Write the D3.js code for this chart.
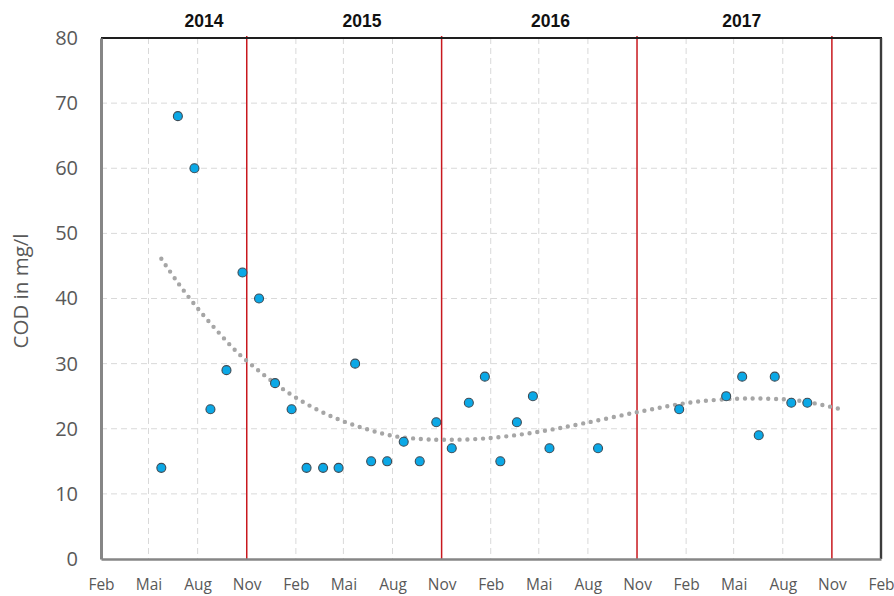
<!DOCTYPE html>
<html>
<head>
<meta charset="utf-8">
<script src="https://cdn.jsdelivr.net/npm/d3@7"></script>
<style>
  body { margin: 0; background: #fff; }
  svg { display: block; }
</style>
</head>
<body>
<script>
// sample dates and COD values (mg/l)
var sampleDates = ["2014-05-25", "2014-06-25", "2014-07-26", "2014-08-25", "2014-09-24", "2014-10-24",
  "2014-11-24", "2014-12-24", "2015-01-24", "2015-02-21", "2015-03-24", "2015-04-22", "2015-05-23",
  "2015-06-22", "2015-07-22", "2015-08-22", "2015-09-21", "2015-10-22", "2015-11-20", "2015-12-22",
  "2016-01-21", "2016-02-19", "2016-03-21", "2016-04-20", "2016-05-21", "2016-08-20", "2017-01-19",
  "2017-04-17", "2017-05-17", "2017-06-17", "2017-07-17", "2017-08-17", "2017-09-16"];
var codValues = [14, 68, 60, 23, 29, 44, 40, 27, 23, 14, 14, 14, 30, 15, 15, 18, 15, 21, 17, 24,
  28, 15, 21, 25, 17, 17, 23, 25, 28, 19, 28, 24, 24];

// trend line
var trendDates = ["2014-05-25", "2014-06-27", "2014-08-01", "2014-09-08", "2014-10-16", "2014-11-28",
  "2015-01-13", "2015-03-02", "2015-04-20", "2015-06-11", "2015-08-02", "2015-09-27", "2015-11-04",
  "2016-01-20", "2016-04-21", "2016-07-22", "2016-11-05", "2017-02-06", "2017-05-05", "2017-07-07",
  "2017-09-02", "2017-11-13"];
var trendValues = [46.1, 42.2, 38.5, 34.9, 31.6, 28.6, 25.8, 23.4, 21.5, 20.0, 18.9, 18.4, 18.3,
  18.5, 19.4, 20.8, 22.6, 24.0, 24.6, 24.6, 24.3, 23.1];

var monthNames = ["Jan", "Feb", "Mär", "Apr", "Mai", "Jun", "Jul", "Aug", "Sep", "Okt", "Nov", "Dez"];
var yTicks = [0, 10, 20, 30, 40, 50, 60, 70, 80];
var yearLabels = ["2014", "2015", "2016", "2017"];
var yearLabelDates = ["2014-08-13", "2015-06-05", "2016-05-23", "2017-05-16"];
var yearBreaks = ["2014-11-01", "2015-11-01", "2016-11-01", "2017-11-01"];
var axisStart = "2014-02-01", axisEnd = "2018-02-01";
var yTitle = "COD in mg/l";

var W = 894, H = 596;
var m = {top: 38, right: 13, bottom: 37, left: 101};
var iw = W - m.left - m.right, ih = H - m.top - m.bottom;
var parse = d3.utcParse("%Y-%m-%d");

var svg = d3.select("body").append("svg").attr("width", W).attr("height", H);
var g = svg.append("g").attr("transform", "translate(" + m.left + "," + m.top + ")");

var x = d3.scaleUtc().domain([parse(axisStart), parse(axisEnd)]).range([0, iw]);
var y = d3.scaleLinear().domain([0, 80]).range([ih, 0]);

var monthTicks = d3.utcMonth.range(parse(axisStart), d3.utcDay.offset(parse(axisEnd), 1), 3);
var breaks = yearBreaks.map(parse);
var isBreak = function (d) { return breaks.some(function (b) { return +b === +d; }); };

// grid
g.selectAll(".hgrid").data(yTicks.slice(1)).enter().append("line")
  .attr("x1", 0).attr("x2", iw)
  .attr("y1", function (d) { return y(d); }).attr("y2", function (d) { return y(d); })
  .attr("stroke", "#d9d9d9").attr("stroke-width", 1).attr("stroke-dasharray", "6,4");
g.selectAll(".vgrid").data(monthTicks.filter(function (d) {
    return !isBreak(d) && x(d) > 1 && x(d) < iw - 1;
  })).enter().append("line")
  .attr("x1", function (d) { return x(d); }).attr("x2", function (d) { return x(d); })
  .attr("y1", 0).attr("y2", ih)
  .attr("stroke", "#d9d9d9").attr("stroke-width", 1).attr("stroke-dasharray", "6,4");

// year break lines
g.selectAll(".brk").data(breaks).enter().append("line")
  .attr("x1", function (d) { return x(d); }).attr("x2", function (d) { return x(d); })
  .attr("y1", -2).attr("y2", ih)
  .attr("stroke", "#c8181e").attr("stroke-width", 1.5);

// frame: top/right dark, left/bottom gray
g.append("line").attr("x1", 0).attr("x2", iw + 1).attr("y1", 0).attr("y2", 0)
  .attr("stroke", "#1e1e1e").attr("stroke-width", 2);
g.append("line").attr("x1", iw).attr("x2", iw).attr("y1", 0).attr("y2", ih)
  .attr("stroke", "#3c3c3c").attr("stroke-width", 2.4);

var yAxis = d3.axisLeft(y).tickValues(yTicks).tickSize(0).tickPadding(23);
var ya = g.append("g").call(yAxis);
ya.select(".domain").attr("stroke", "#868686").attr("stroke-width", 3);
ya.selectAll("text").attr("font-family", "'Open Sans', sans-serif").attr("font-size", "20px")
  .attr("fill", "#595959");

var xAxis = d3.axisBottom(x).tickValues(monthTicks).tickSize(0).tickPadding(20)
  .tickFormat(function (d) { return monthNames[d.getUTCMonth()]; });
var xa = g.append("g").attr("transform", "translate(0," + ih + ")").call(xAxis);
xa.select(".domain").attr("stroke", "#868686").attr("stroke-width", 2.4);
xa.selectAll("text").attr("font-family", "'Open Sans', sans-serif").attr("font-size", "15.5px")
  .attr("fill", "#595959");

// trend line (round dots)
var trend = trendDates.map(function (d, i) { return {date: parse(d), v: trendValues[i]}; });
g.append("path").datum(trend)
  .attr("fill", "none").attr("stroke", "#a6a6a6").attr("stroke-width", 4.4)
  .attr("stroke-linecap", "round").attr("stroke-dasharray", "0,7.8")
  .attr("d", d3.line().curve(d3.curveCatmullRom)
    .x(function (d) { return x(d.date); }).y(function (d) { return y(d.v); }));

// samples
var pts = sampleDates.map(function (d, i) { return {date: parse(d), v: codValues[i]}; });
g.selectAll(".pt").data(pts).enter().append("circle")
  .attr("cx", function (d) { return x(d.date); })
  .attr("cy", function (d) { return y(d.v); })
  .attr("r", 4.5)
  .attr("fill", "#0ba8e6").attr("stroke", "#3d4b55").attr("stroke-width", 1.1);

// year labels
g.selectAll(".yr").data(yearLabels).enter().append("text")
  .attr("x", function (d, i) { return x(parse(yearLabelDates[i])); })
  .attr("y", -11)
  .attr("text-anchor", "middle")
  .attr("font-family", "'Liberation Sans', Arial, sans-serif").attr("font-weight", "bold")
  .attr("font-size", "17.5px").attr("fill", "#111")
  .text(function (d) { return d; });

// y title
svg.append("text")
  .attr("transform", "translate(28," + 291 + ") rotate(-90)")
  .attr("text-anchor", "middle")
  .attr("font-family", "'Open Sans', sans-serif").attr("font-size", "20.5px").attr("fill", "#595959")
  .text(yTitle);
</script>
</body>
</html>
